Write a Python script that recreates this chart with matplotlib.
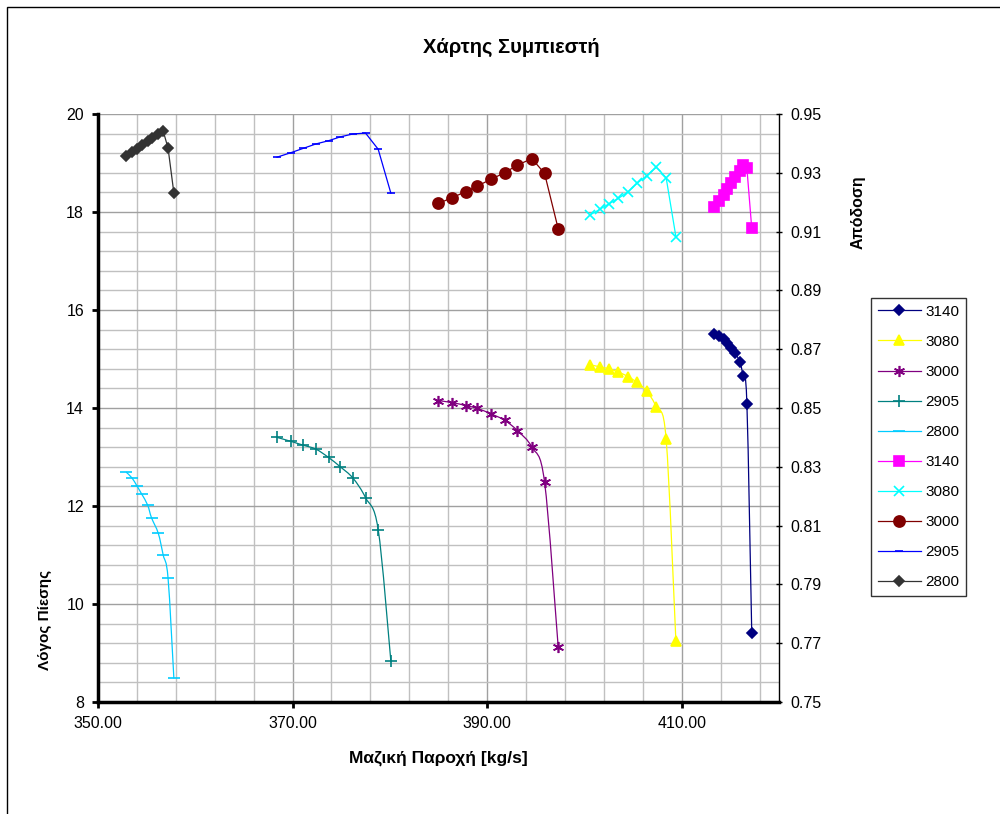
import numpy as np
import matplotlib
matplotlib.use("Agg")
import matplotlib.pyplot as plt
from matplotlib.path import Path
from matplotlib.patches import PathPatch
from matplotlib.lines import Line2D
from matplotlib.ticker import MultipleLocator, FixedLocator

plt.rcParams['font.family'] = ['Liberation Sans', 'DejaVu Sans']

# mass flow [kg/s] per speed line (same points used for pressure ratio and efficiency)
flow_3140 = [413.3, 413.8, 414.3, 414.7, 415.1, 415.5, 416.0, 416.3, 416.7, 417.2]
flow_3080 = [400.6, 401.6, 402.5, 403.5, 404.5, 405.4, 406.4, 407.4, 408.4, 409.4]
flow_3000 = [385.0, 386.4, 387.8, 389.0, 390.4, 391.8, 393.1, 394.6, 395.9, 397.3]
flow_2905 = [368.4, 369.8, 371.1, 372.4, 373.7, 374.9, 376.2, 377.5, 378.8, 380.1]
flow_2800 = [352.9, 353.5, 354.0, 354.5, 355.1, 355.5, 356.2, 356.7, 357.2, 357.8]

# pressure ratio
pr_3140 = [15.51, 15.46, 15.40, 15.32, 15.23, 15.12, 14.93, 14.65, 14.08, 9.40]
pr_3080 = [14.88, 14.84, 14.80, 14.73, 14.64, 14.52, 14.34, 14.01, 13.36, 9.25]
pr_3000 = [14.15, 14.11, 14.05, 13.99, 13.88, 13.75, 13.54, 13.20, 12.49, 9.13]
pr_2905 = [13.40, 13.32, 13.24, 13.16, 12.99, 12.80, 12.57, 12.17, 11.52, 8.84]
pr_2800 = [12.69, 12.57, 12.41, 12.24, 12.02, 11.76, 11.44, 11.00, 10.53, 8.48]

# efficiency
eff_3140 = [0.9185, 0.9205, 0.9224, 0.9245, 0.9264, 0.9285, 0.9306, 0.9326, 0.9315, 0.9111]
eff_3080 = [0.9157, 0.9176, 0.9194, 0.9213, 0.9236, 0.9264, 0.9290, 0.9319, 0.9283, 0.9083]
eff_3000 = [0.9196, 0.9215, 0.9236, 0.9255, 0.9278, 0.9300, 0.9326, 0.9348, 0.9298, 0.9110]
eff_2905 = [0.9353, 0.9368, 0.9383, 0.9398, 0.9409, 0.9422, 0.9432, 0.9435, 0.9380, 0.9231]
eff_2800 = [0.9357, 0.9369, 0.9381, 0.9393, 0.9407, 0.9417, 0.9432, 0.9442, 0.9384, 0.9231]

speeds = ['3140', '3080', '3000', '2905', '2800']


def smooth_line(ax, x, y, color, lw=0.9):
    # excel-like smoothed line (catmull-rom -> cubic bezier)
    p = np.column_stack([x, y])
    n = len(p)
    verts = [p[0]]
    codes = [Path.MOVETO]
    for i in range(n - 1):
        p0 = p[max(i - 1, 0)]
        p1 = p[i]
        p2 = p[i + 1]
        p3 = p[min(i + 2, n - 1)]
        c1 = p1 + (p2 - p0) / 6.0
        c2 = p2 - (p3 - p1) / 6.0
        verts += [c1, c2, p2]
        codes += [Path.CURVE4] * 3
    ax.add_patch(PathPatch(Path(verts, codes), fill=False, edgecolor=color, lw=lw, zorder=3))


fig = plt.figure(figsize=(10, 8.14), dpi=100)
ax = fig.add_axes([0.098, 0.1376, 0.681, 0.7224])
ax2 = ax.twinx()

# chart border
fig.patches.append(plt.Rectangle((0.007, -0.05), 1.1, 1.041, transform=fig.transFigure,
                                 fill=False, edgecolor='black', lw=1.0))

pr_styles = [
    (flow_3140, pr_3140, '#000080', 'D', 5),
    (flow_3080, pr_3080, '#FFFF00', '^', 7),
    (flow_3000, pr_3000, '#800080', (6, 2, 0), 8),
    (flow_2905, pr_2905, '#008080', '+', 8),
    (flow_2800, pr_2800, '#00CCFF', '_', 9),
]
eff_styles = [
    (flow_3140, eff_3140, '#FF00FF', 's', 7),
    (flow_3080, eff_3080, '#00FFFF', 'x', 7),
    (flow_3000, eff_3000, '#800000', 'o', 8),
    (flow_2905, eff_2905, '#0000FF', '_', 6),
    (flow_2800, eff_2800, '#333333', 'D', 5),
]

handles = []
labels = []
for (x, y, col, mk, ms), sp in zip(pr_styles, speeds):
    smooth_line(ax, x, y, col)
    ax.plot(x, y, ls='none', marker=mk, ms=ms, color=col, mew=1.2, zorder=4)
    handles.append(Line2D([], [], color=col, lw=0.9, marker=mk, ms=ms, mew=1.2))
    labels.append(sp)

for (x, y, col, mk, ms), sp in zip(eff_styles, speeds):
    ax2.plot(x, y, color=col, lw=0.9, marker=mk, ms=ms, mew=1.2, zorder=4)
    handles.append(Line2D([], [], color=col, lw=0.9, marker=mk, ms=ms, mew=1.2))
    labels.append(sp)

# axes ranges and ticks
ax.set_xlim(350, 420)
ax.set_ylim(8, 20)
ax2.set_ylim(0.75, 0.95)
ax.xaxis.set_major_locator(FixedLocator(np.arange(350, 421, 20)))
ax.xaxis.set_minor_locator(FixedLocator(np.arange(350, 421, 4)))
ax.yaxis.set_major_locator(MultipleLocator(2))
ax.yaxis.set_minor_locator(MultipleLocator(0.4))
ax2.yaxis.set_major_locator(FixedLocator(np.arange(0.75, 0.9501, 0.02)))
ax.xaxis.set_major_formatter(plt.FuncFormatter(lambda v, p: f"{v:.2f}"))
ax2.yaxis.set_major_formatter(plt.FuncFormatter(lambda v, p: f"{v:.2f}"))

ax.grid(which='major', color='#a0a0a0', lw=1.0)
ax.grid(which='minor', color='#c0c0c0', lw=1.0)
ax.set_axisbelow(True)

for a in (ax, ax2):
    a.spines['top'].set_visible(False)
ax.spines['right'].set_visible(False)
ax2.spines['left'].set_visible(False)
ax2.spines['bottom'].set_visible(False)
ax.spines['left'].set_linewidth(2.5)
ax.spines['bottom'].set_linewidth(2.5)
ax2.spines['right'].set_linewidth(1.0)

ax.tick_params(axis='both', which='minor', length=0)
ax.tick_params(axis='both', which='major', length=4, width=2, labelsize=11.5, pad=6)
ax2.tick_params(axis='y', which='major', length=5, width=1, labelsize=11.5, pad=6, direction='inout')

ax.set_xlabel('Μαζική Παροχή [kg/s]', fontsize=12.5, fontweight='bold', labelpad=14)
fig.text(0.045, 1 - 620 / 814, 'Λόγος Πίεσης', rotation=90, ha='center', va='center',
         fontsize=11, fontweight='bold')
fig.text(0.858, 1 - 212 / 814, 'Απόδοση', rotation=90, ha='center', va='center',
         fontsize=11.5, fontweight='bold')
fig.text(0.511, 1 - 47 / 814, 'Χάρτης Συμπιεστή', ha='center', va='center',
         fontsize=14.5, fontweight='bold')

leg = fig.legend(handles, labels, loc='upper left', bbox_to_anchor=(0.871, 0.634),
                 fontsize=11, frameon=True, fancybox=False, edgecolor='black',
                 handlelength=2.8, labelspacing=1.05, borderpad=0.45, handletextpad=0.3,
                 borderaxespad=0)
leg.get_frame().set_linewidth(1.0)

fig.savefig('out.png', dpi=100)
